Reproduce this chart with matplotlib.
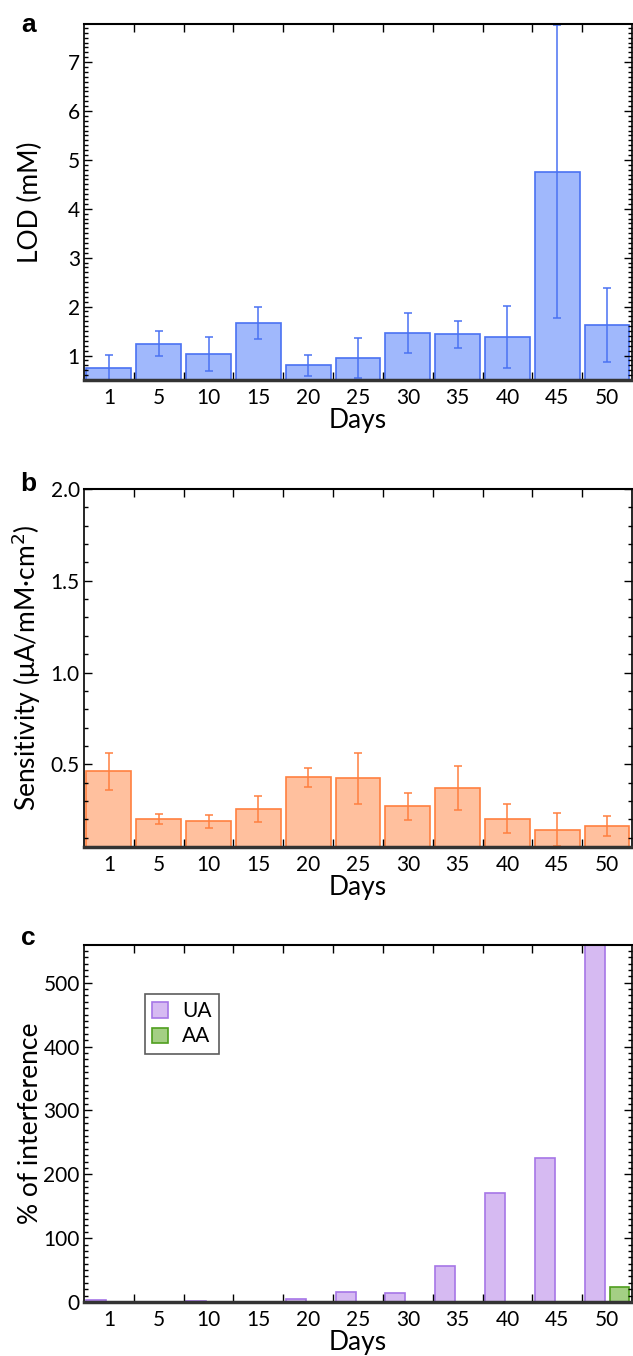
import matplotlib
matplotlib.use("Agg")
import matplotlib.pyplot as plt
from matplotlib.ticker import MultipleLocator, FixedLocator
import numpy as np

plt.rcParams['font.family'] = ['Lato', 'DejaVu Sans']

days = ['1', '5', '10', '15', '20', '25', '30', '35', '40', '45', '50']

# limit of detection (mM), mean and error
lod = [0.75, 1.24, 1.03, 1.66, 0.80, 0.95, 1.46, 1.43, 1.38, 4.76, 1.63]
lod_err = [0.26, 0.26, 0.34, 0.33, 0.21, 0.40, 0.41, 0.28, 0.64, 3.0, 0.76]

# sensitivity (uA/mM cm2), mean and error
sens = [0.462, 0.200, 0.190, 0.258, 0.429, 0.424, 0.271, 0.371, 0.205, 0.144, 0.164]
sens_err = [0.100, 0.027, 0.035, 0.072, 0.052, 0.140, 0.075, 0.120, 0.080, 0.090, 0.055]

# interference (%)
ua = [3.7, 0.5, 2.0, 0.5, 5.2, 15.0, 14.6, 56.0, 170.0, 225.0, 560.0]
aa = [0, 0, 0, 0, 0, 0, 0, 0, 0, 0, 24.0]

x = np.arange(len(days))

fig = plt.figure(figsize=(6.33, 13.56), dpi=100)
ax_a = fig.add_axes([0.1327, 0.7198, 0.8657, 0.2625])
ax_b = fig.add_axes([0.1327, 0.3754, 0.8657, 0.2640])
ax_c = fig.add_axes([0.1327, 0.0398, 0.8657, 0.2633])


def style_axes(ax, ylabel, ymin, ymax, major, minor):
    ax.set_xlim(-0.5, len(days) - 0.5)
    ax.set_ylim(ymin, ymax)
    ax.set_xticks(x)
    ax.set_xticklabels(days, fontsize=15)
    ax.xaxis.set_minor_locator(FixedLocator(np.arange(0.5, len(days) - 0.5, 1)))
    ax.tick_params(axis='x', which='major', length=0, pad=6)
    ax.tick_params(axis='x', which='minor', direction='in', length=6,
                   width=1, top=True, bottom=True)
    ax.yaxis.set_major_locator(MultipleLocator(major))
    ax.yaxis.set_minor_locator(MultipleLocator(minor))
    ax.tick_params(axis='y', which='major', direction='in', length=6,
                   width=1, left=True, right=True, labelsize=15, pad=3)
    ax.tick_params(axis='y', which='minor', direction='in', length=3,
                   width=1, left=True, right=True)
    ax.set_xlabel('Days', fontsize=19, labelpad=0)
    ax.set_ylabel(ylabel, fontsize=19)
    ax.yaxis.set_label_coords(-0.075, 0.5)
    ax.spines['top'].set_linewidth(1.5)
    ax.spines['left'].set_linewidth(1.2)
    ax.spines['right'].set_linewidth(1.2)
    ax.spines['bottom'].set_linewidth(2.5)
    ax.spines['bottom'].set_color('#333333')
    ax.spines['bottom'].set_zorder(5)


# a: LOD
ax_a.bar(x, lod, width=0.9, color='#a0b8fc', edgecolor='#4a72f2', linewidth=1.2)
ax_a.errorbar(x, lod, yerr=lod_err, fmt='none', ecolor='#4a72f2',
              elinewidth=1.1, capsize=3, capthick=1.1)
style_axes(ax_a, 'LOD (mM)', 0.5, 7.78, 1, 0.1)
ax_a.set_yticks([1, 2, 3, 4, 5, 6, 7])

# b: sensitivity
ax_b.bar(x, sens, width=0.9, color='#ffc09e', edgecolor='#ff8040', linewidth=1.2)
ax_b.errorbar(x, sens, yerr=sens_err, fmt='none', ecolor='#ff8040',
              elinewidth=1.1, capsize=3, capthick=1.1)
style_axes(ax_b, r'Sensitivity (μA/mM·cm$^2$)', 0.05, 2.0, 0.5, 0.1)
ax_b.set_yticks([0.5, 1.0, 1.5, 2.0])
ax_b.set_yticklabels(['0.5', '1.0', '1.5', '2.0'])

# c: interference
ax_c.bar(x - 0.25, ua, width=0.4, color='#d6baf2', edgecolor='#a676e6',
         linewidth=1.2, label='UA')
ax_c.bar(x + 0.25, aa, width=0.4, color='#a4cf84', edgecolor='#4f9e1e',
         linewidth=1.2, label='AA')
style_axes(ax_c, '% of interference', 0, 559, 100, 10)
leg = ax_c.legend(loc='upper left', bbox_to_anchor=(0.111, 0.863), fontsize=15,
                  frameon=True, fancybox=False, edgecolor='#333333',
                  handlelength=0.75, handleheight=0.75, borderpad=0.35,
                  labelspacing=0.25, handletextpad=0.7, borderaxespad=0)
leg.get_frame().set_linewidth(1.2)

# panel letters, baseline offset from the top spine in pixels
for ax, letter, drop in ((ax_a, 'a', 8), (ax_b, 'b', 2), (ax_c, 'c', 0)):
    fig_h = fig.get_figheight() * fig.dpi
    ax_h = ax.get_position().height * fig_h
    ax.text(-0.102, 1.0 - drop / ax_h, letter, transform=ax.transAxes,
            fontsize=19, fontweight='bold', family='Liberation Sans',
            ha='center', va='baseline')

fig.savefig('out.png', dpi=100)
